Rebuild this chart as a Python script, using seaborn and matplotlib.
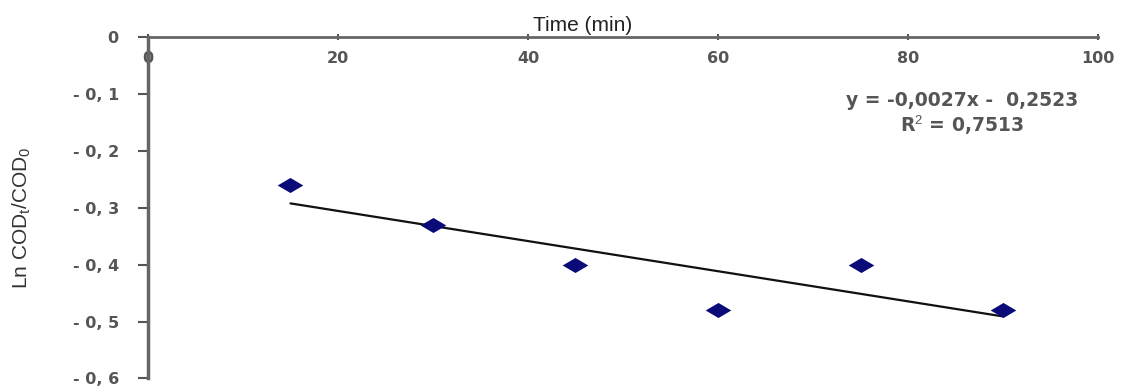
import matplotlib
matplotlib.use("Agg")
import matplotlib.pyplot as plt
import seaborn as sns
import numpy as np
import pandas as pd
from matplotlib.ticker import FuncFormatter

time_min = [15, 30, 45, 60, 75, 90]
ln_cod = [-0.26, -0.33, -0.40, -0.48, -0.40, -0.48]
x_ticks = [0, 20, 40, 60, 80, 100]
y_ticks = [0, -0.1, -0.2, -0.3, -0.4, -0.5, -0.6]
equation_text = "y = -0,0027x -  0,2523"
r2_text = "R$^2$ = 0,7513"

sns.set_theme(style="white")
plt.rcParams['font.family'] = ['Liberation Sans', 'DejaVu Sans']
plt.rcParams['mathtext.fontset'] = 'custom'
plt.rcParams['mathtext.rm'] = 'Liberation Sans'
plt.rcParams['mathtext.it'] = 'Liberation Sans'

df = pd.DataFrame({"time": time_min, "ln": ln_cod})

fig = plt.figure(figsize=(11.21, 3.89), dpi=100)
ax = fig.add_axes([0.132, 0.027, 0.8475, 0.878])

diamond = [(-1.7, 0), (0, 1), (1.7, 0), (0, -1), (-1.7, 0)]
sns.regplot(data=df, x="time", y="ln", ci=None, truncate=True, ax=ax,
            marker=diamond,
            scatter_kws=dict(s=340, color="#0a0a78", alpha=1, linewidths=0, zorder=3),
            line_kws=dict(color="#111111", lw=1.6, zorder=2))

ax.set_xlim(0, 100)
ax.set_ylim(-0.6, 0)
ax.set_xticks(x_ticks)
ax.set_yticks(y_ticks)

ax.spines['right'].set_visible(False)
ax.spines['bottom'].set_visible(False)
ax.spines['top'].set_color("#666666")
ax.spines['left'].set_color("#666666")
ax.spines['top'].set_linewidth(2)
ax.spines['left'].set_linewidth(2.5)

ax.xaxis.tick_top()
ax.tick_params(axis='x', direction='inout', length=4, width=1.5, color="#555555",
               labeltop=True, labelbottom=False, pad=-23, labelcolor="#555555")
ax.tick_params(axis='y', direction='out', length=7, width=1.5, color="#555555",
               left=True, labelcolor="#555555", pad=14)

ax.yaxis.set_major_formatter(FuncFormatter(
    lambda v, p: "0" if abs(v) < 1e-9 else ("- " + f"{abs(v):.1f}".replace(".", ", "))))
fig.canvas.draw()
for lbl in ax.get_xticklabels():
    lbl.set_fontproperties(dict(family='DejaVu Sans', weight='bold', size=11.5))
for lbl in ax.get_yticklabels():
    lbl.set_fontproperties(dict(family='DejaVu Sans', weight='bold', size=11.5))

ax.set_xlabel("")
ax.set_ylabel("Ln COD$_t$/COD$_0$", fontsize=15, color="#333333")
ax.yaxis.set_label_coords(-0.121, 0.47)
ax.text(45.8, 0.004, "Time (min)", ha="center", va="bottom", fontsize=15,
        color="#222222", clip_on=False)

ax.text(85.7, -0.111, equation_text, ha="center", va="center", fontsize=13.5,
        color="#555555", family='DejaVu Sans', fontweight="bold")
ax.text(85.7, -0.156, r2_text, ha="center", va="center", fontsize=13.5,
        color="#555555", family='DejaVu Sans', fontweight="bold")

fig.savefig("out.png", dpi=100)
